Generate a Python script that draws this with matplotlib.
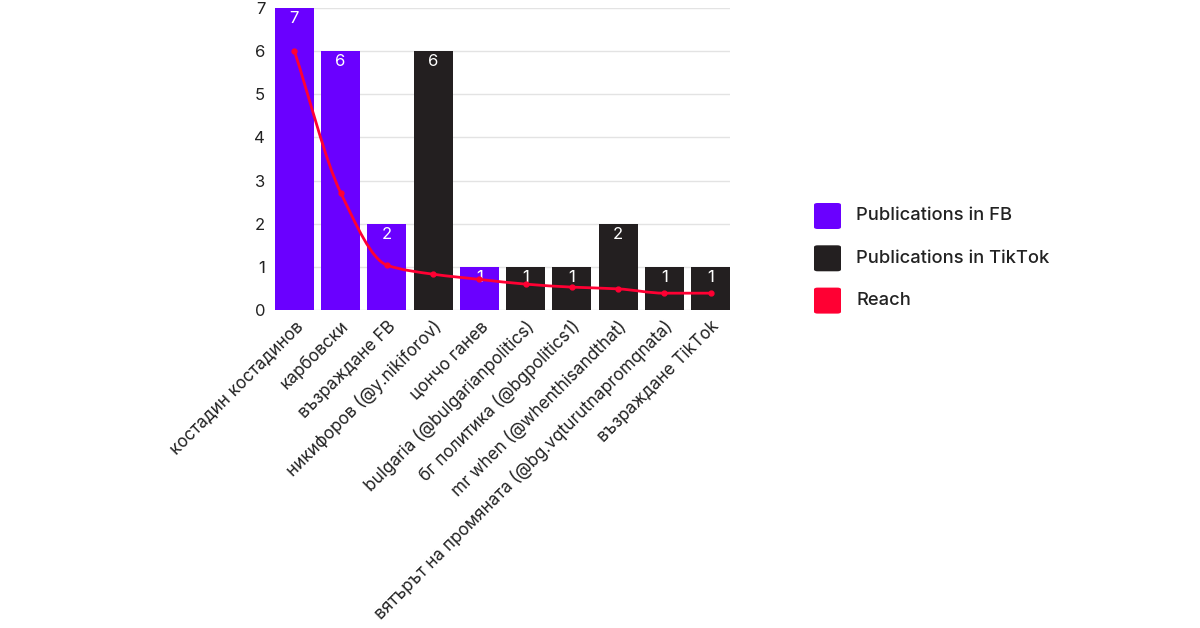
"""
Publications in FB / TikTok per account, with the reach curve on top.
"""

import matplotlib
matplotlib.use("Agg")
import matplotlib.pyplot as plt
import matplotlib.transforms as mtransforms
import numpy as np
from matplotlib.patches import FancyBboxPatch, PathPatch
from matplotlib.path import Path


ACCOUNTS = [
    "костадин костадинов",
    "карбовски",
    "възраждане FB",
    "никифоров (@y.nikiforov)",
    "цончо ганев",
    "bulgaria (@bulgarianpolitics)",
    "бг политика (@bgpolitics1)",
    "mr when (@whenthisandthat)",
    "вятърът на промяната (@bg.vqturutnapromqnata)",
    "възраждане TikTok",
]
PUBLICATIONS = [7, 6, 2, 6, 1, 1, 1, 2, 1, 1]
PLATFORM = ["FB", "FB", "FB", "TikTok", "FB",
            "TikTok", "TikTok", "TikTok", "TikTok", "TikTok"]
REACH = [6.0, 2.72, 1.04, 0.83, 0.71, 0.60, 0.53, 0.49, 0.39, 0.39]
LEGEND_LABELS = ["Publications in FB", "Publications in TikTok", "Reach"]

FB_COLOR = "#6A00FF"
TT_COLOR = "#231F20"
REACH_COLOR = "#FF0033"
TEXT_COLOR = "#222222"

plt.rcParams["font.family"] = ["Inter", "DejaVu Sans"]


def smooth_path(xs, ys):
    """Monotone cubic (Fritsch-Carlson) as bezier segments for a Path."""
    xs = np.asarray(xs, float)
    ys = np.asarray(ys, float)
    h = np.diff(xs)
    d = np.diff(ys) / h
    m = np.zeros_like(ys)
    m[0], m[-1] = d[0], d[-1]
    for i in range(1, len(ys) - 1):
        if d[i - 1] * d[i] <= 0:
            m[i] = 0
        else:
            w1 = 2 * h[i] + h[i - 1]
            w2 = h[i] + 2 * h[i - 1]
            m[i] = (w1 + w2) / (w1 / d[i - 1] + w2 / d[i])
    verts = [(xs[0], ys[0])]
    codes = [Path.MOVETO]
    for i in range(len(xs) - 1):
        verts += [(xs[i] + h[i] / 3, ys[i] + m[i] * h[i] / 3),
                  (xs[i + 1] - h[i] / 3, ys[i + 1] - m[i + 1] * h[i] / 3),
                  (xs[i + 1], ys[i + 1])]
        codes += [Path.CURVE4] * 3
    return Path(verts, codes)


def main():
    fig = plt.figure(figsize=(12, 6.28), dpi=100)
    ax = fig.add_axes([275 / 1200, 1 - 310 / 628, 455 / 1200, 302 / 628])

    x = np.arange(len(ACCOUNTS))
    colors = [FB_COLOR if p == "FB" else TT_COLOR for p in PLATFORM]
    ax.bar(x, PUBLICATIONS, width=0.84, color=colors, zorder=2)

    for xi, v in zip(x, PUBLICATIONS):
        ax.annotate(str(v), (xi, v), xytext=(0, -7.5), textcoords="offset points",
                    ha="center", va="center", color="white", fontsize=12,
                    zorder=3)

    ax.add_patch(PathPatch(smooth_path(x, REACH), facecolor="none",
                           edgecolor=REACH_COLOR, linewidth=2, zorder=4))
    ax.plot(x, REACH, "o", color=REACH_COLOR, markersize=3.5, zorder=5)

    ax.set_xlim(-0.42, len(ACCOUNTS) - 0.58)
    ax.set_ylim(0, 7)
    ax.set_yticks(range(8))
    ax.yaxis.grid(True, color="#e3e3e3", linewidth=1, zorder=0)
    ax.set_axisbelow(True)
    for s in ax.spines.values():
        s.set_visible(False)
    ax.tick_params(axis="both", length=0, colors=TEXT_COLOR, labelsize=12)
    ax.tick_params(axis="y", pad=7)

    ax.set_xticks(x)
    ax.set_xticklabels(ACCOUNTS, rotation=45, ha="right", va="center",
                       rotation_mode="anchor", fontsize=12.3)
    ax.tick_params(axis="x", pad=10)
    # nudge the rotated labels a few pixels right, like the original
    shift = mtransforms.ScaledTranslation(6 / 100, 0, fig.dpi_scale_trans)
    for lbl in ax.get_xticklabels():
        lbl.set_transform(lbl.get_transform() + shift)

    # legend, drawn by hand so the squares and rows land where they should
    legend_colors = [FB_COLOR, TT_COLOR, REACH_COLOR]
    for i, (label, color) in enumerate(zip(LEGEND_LABELS, legend_colors)):
        cy = 216 + 42.3 * i
        fig.patches.append(FancyBboxPatch(
            (814 / 1200, 1 - (cy + 13) / 628), 27 / 1200, 26 / 628,
            boxstyle="round,pad=0,rounding_size=0.003",
            transform=fig.transFigure, facecolor=color, edgecolor="none"))
        fig.text(856 / 1200, 1 - cy / 628, label, ha="left", va="center",
                 fontsize=13.2, color=TEXT_COLOR, fontweight="medium")

    fig.savefig("out.png", dpi=100)


if __name__ == "__main__":
    main()
